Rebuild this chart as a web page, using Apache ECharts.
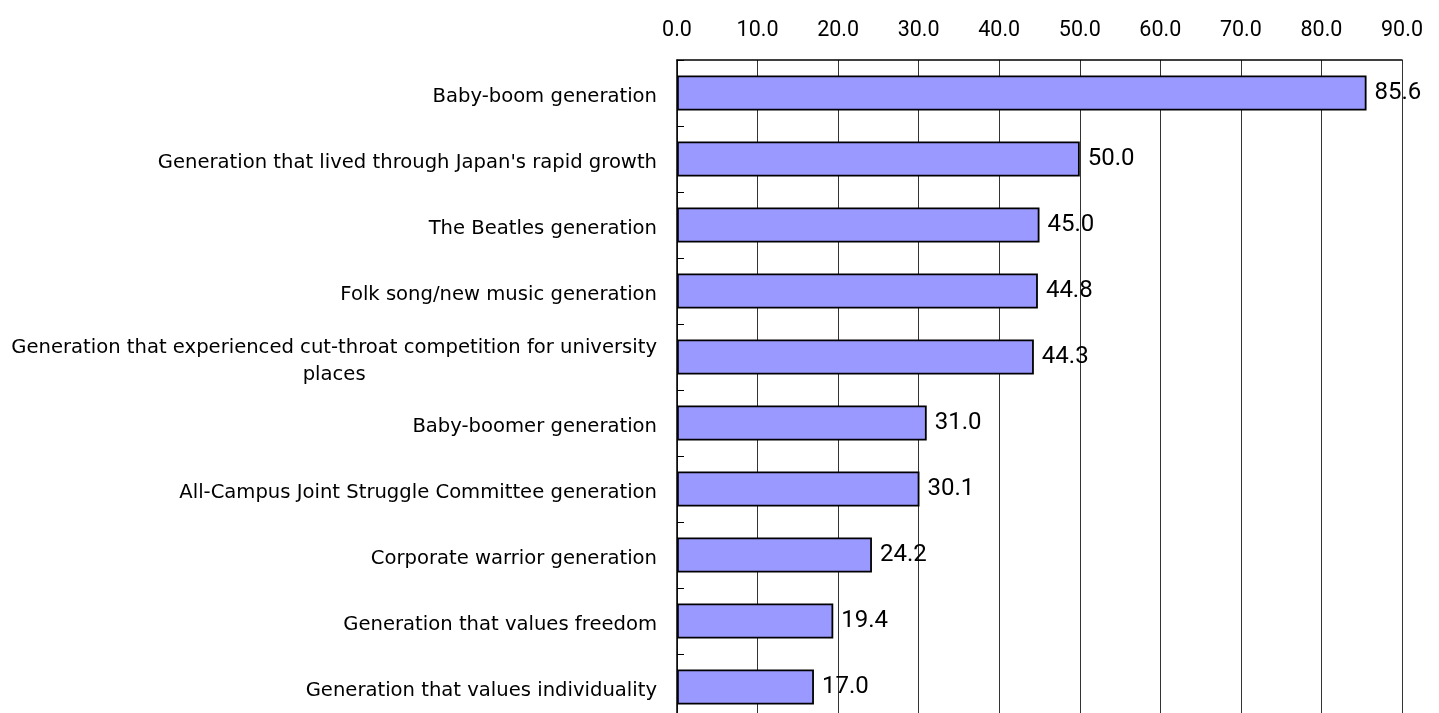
<!DOCTYPE html>
<html>
<head>
<meta charset="utf-8">
<script src="https://cdn.jsdelivr.net/npm/echarts@6/dist/echarts.min.js"></script>
<style>
html,body{margin:0;padding:0;background:#fff;}
#chart{width:1439px;height:713px;}
</style>
</head>
<body>
<div id="chart"></div>
<script>
const categories = [
  "Baby-boom generation",
  "Generation that lived through Japan's rapid growth",
  "The Beatles generation",
  "Folk song/new music generation",
  "Generation that experienced cut-throat competition for university places",
  "Baby-boomer generation",
  "All-Campus Joint Struggle Committee generation",
  "Corporate warrior generation",
  "Generation that values freedom",
  "Generation that values individuality"
];
const values = [85.6, 50.0, 45.0, 44.8, 44.3, 31.0, 30.1, 24.2, 19.4, 17.0];
const xTicks = [0, 10, 20, 30, 40, 50, 60, 70, 80, 90];

const FONT = "DejaVu Sans";
const NUM_FONT = "Roboto";
const CAT_SIZE = 19.6;
const MAX_W = 660;

const ctx = document.createElement('canvas').getContext('2d');
ctx.font = CAT_SIZE + 'px "' + FONT + '"';
function wrap(text) {
  const words = text.split(' ');
  const lines = [];
  let cur = '';
  for (const w of words) {
    const t = cur ? cur + ' ' + w : w;
    if (cur && ctx.measureText(t).width > MAX_W) { lines.push(cur); cur = w; }
    else cur = t;
  }
  if (cur) lines.push(cur);
  return lines;
}

const chart = echarts.init(document.getElementById('chart'));
chart.setOption({
  animation: false,
  grid: {left: 677, right: 37, top: 60, bottom: -7, containLabel: false, outerBoundsMode: 'none'},
  xAxis: {
    type: 'value', position: 'top',
    min: xTicks[0], max: xTicks[xTicks.length - 1], interval: 10,
    axisLine: {show: true, lineStyle: {color: '#000', width: 1.5}},
    axisTick: {show: false},
    axisLabel: {
      margin: 18, fontSize: 21.5, color: '#000', fontFamily: NUM_FONT,
      formatter: v => Number(v).toFixed(1)
    },
    splitLine: {show: true, lineStyle: {color: '#333', width: 1}}
  },
  yAxis: {
    type: 'category', inverse: true, data: categories,
    axisLine: {show: true, lineStyle: {color: '#000', width: 1.5}},
    axisTick: {show: true, inside: true, length: 7, lineStyle: {color: '#000'}},
    axisLabel: {
      margin: 20, fontSize: CAT_SIZE, color: '#000', fontFamily: FONT,
      padding: [8, 0, 0, 0],
      formatter: v => {
        const lines = wrap(v);
        if (lines.length === 1) return v;
        return lines.map(l => '{c|' + l + '}').join('\n');
      },
      rich: {c: {align: 'center', fontSize: CAT_SIZE, fontFamily: FONT, color: '#000', lineHeight: 27}}
    }
  },
  series: [{
    type: 'bar', data: values, barWidth: 35,
    itemStyle: {color: '#9999FF', borderColor: '#000', borderWidth: 1.8},
    label: {
      show: true, position: 'right', distance: 8,
      fontSize: 24, color: '#000', fontFamily: NUM_FONT,
      formatter: p => Number(p.value).toFixed(1)
    }
  }]
});
</script>
</body>
</html>
